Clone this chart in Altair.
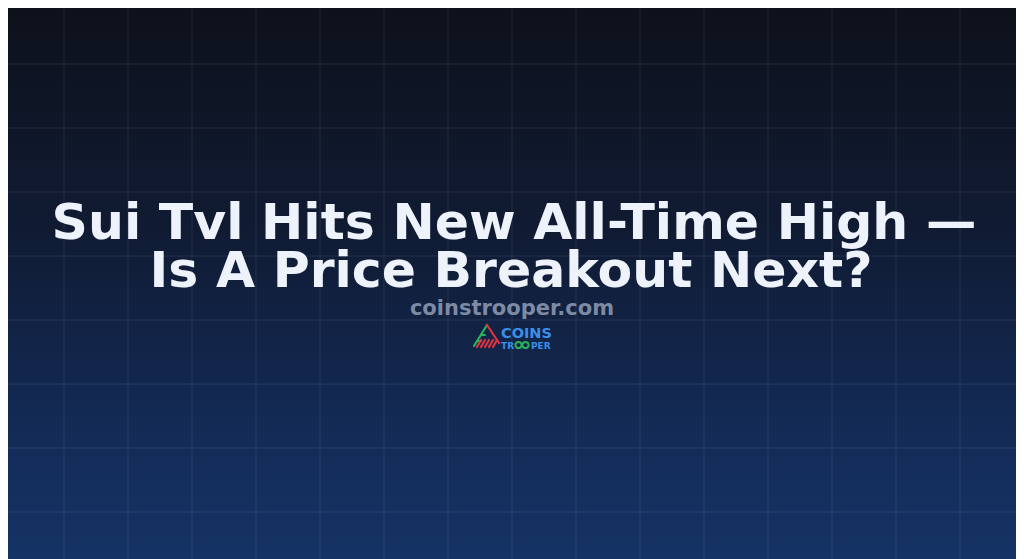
import altair as alt
import pandas as pd

# ---- content ----
title_lines = ["Sui Tvl Hits New All-Time High —", "Is A Price Breakout Next?"]
title_baselines = [239, 287]
subtitle = "coinstrooper.com"
logo_word1 = "COINS"
logo_word2a = "TR"
logo_word2b = "PER"
logo_rings_x = [518.5, 525.5]

grid_x = [64, 128, 192, 256, 320, 384, 448, 512, 576, 640, 704, 768, 832, 896, 960]
grid_y = [64, 128, 192, 256, 320, 384, 448, 512]

# logo icon strokes (page pixel coordinates)
icon_x1 = [474, 477, 481, 477, 481, 485, 489, 493, 487]
icon_y1 = [346, 341, 335, 347, 347, 347, 347, 347, 325]
icon_x2 = [487, 481, 485, 481, 485, 489, 493, 497, 499]
icon_y2 = [325, 341, 335, 340, 340, 340, 340, 340, 343]
icon_col = ["#27b35a", "#27b35a", "#27b35a", "#e0313f", "#e0313f", "#e0313f", "#e0313f", "#e0313f", "#e0313f"]

W, H = 1008, 551
xs = alt.Scale(domain=[8, 1016], range=[0, W], nice=False, zero=False)
ys = alt.Scale(domain=[8, 559], range=[0, H], nice=False, zero=False)

one = pd.DataFrame({"a": [0]})

bg = alt.Chart(one).mark_rect(
    color=alt.Gradient(
        gradient="linear",
        stops=[
            alt.GradientStop(color="#0d111b", offset=0),
            alt.GradientStop(color="#101b33", offset=0.4),
            alt.GradientStop(color="#132a55", offset=0.75),
            alt.GradientStop(color="#153365", offset=1),
        ],
        x1=0, x2=0, y1=0, y2=1,
    )
).encode(x=alt.value(0), x2=alt.value(W), y=alt.value(0), y2=alt.value(H))

vgrid = alt.Chart(pd.DataFrame({"gx": grid_x})).mark_rule(
    color="#ffffff", opacity=0.09, strokeWidth=1
).encode(x=alt.X("gx:Q", scale=xs, axis=None))

hgrid = alt.Chart(pd.DataFrame({"gy": grid_y})).mark_rule(
    color="#ffffff", opacity=0.09, strokeWidth=1
).encode(y=alt.Y("gy:Q", scale=ys, axis=None))

tdf = pd.DataFrame({"t": title_lines, "yb": title_baselines, "xc": [514, 511]})
title = alt.Chart(tdf).mark_text(
    font="DejaVu Sans", fontWeight="bold", fontSize=50.5, color="#eef2fb",
    align="center", baseline="alphabetic"
).encode(x=alt.X("xc:Q", scale=xs, axis=None), y=alt.Y("yb:Q", scale=ys, axis=None), text="t:N")

sub = alt.Chart(pd.DataFrame({"t": [subtitle], "xc": [512], "yb": [315]})).mark_text(
    font="DejaVu Sans", fontWeight="bold", fontSize=21, color="#7d8aa4",
    align="center", baseline="alphabetic"
).encode(x=alt.X("xc:Q", scale=xs, axis=None), y=alt.Y("yb:Q", scale=ys, axis=None), text="t:N")

icon = alt.Chart(pd.DataFrame({"x1": icon_x1, "y1": icon_y1, "x2": icon_x2, "y2": icon_y2, "c": icon_col})).mark_rule(
    strokeWidth=2.2, strokeCap="round"
).encode(
    x=alt.X("x1:Q", scale=xs, axis=None), y=alt.Y("y1:Q", scale=ys, axis=None),
    x2="x2:Q", y2="y2:Q", color=alt.Color("c:N", scale=None, legend=None)
)

logo_txt = pd.DataFrame({
    "t": [logo_word1, logo_word2a, logo_word2b],
    "xl": [501, 501, 531],
    "yb": [338, 349, 349],
    "fs": [14.5, 9, 9],
})
logo = alt.Chart(logo_txt).mark_text(
    font="DejaVu Sans", fontWeight="bold", align="left", baseline="alphabetic", color="#3b8fe8"
).encode(
    x=alt.X("xl:Q", scale=xs, axis=None), y=alt.Y("yb:Q", scale=ys, axis=None),
    text="t:N", size=alt.Size("fs:Q", scale=None, legend=None),
)

rings = alt.Chart(pd.DataFrame({"rx": logo_rings_x, "ry": [345, 345]})).mark_point(
    shape="circle", filled=False, color="#27b35a", size=38, strokeWidth=2, opacity=1
).encode(x=alt.X("rx:Q", scale=xs, axis=None), y=alt.Y("ry:Q", scale=ys, axis=None))

chart = alt.layer(bg, vgrid, hgrid, title, sub, icon, logo, rings).properties(
    width=W, height=H, padding=0, autosize=alt.AutoSizeParams(type="none"),
    background="#0d111b",
).configure_view(stroke=None)

chart.save("out.html", embed_options={"renderer": "svg", "actions": False})
